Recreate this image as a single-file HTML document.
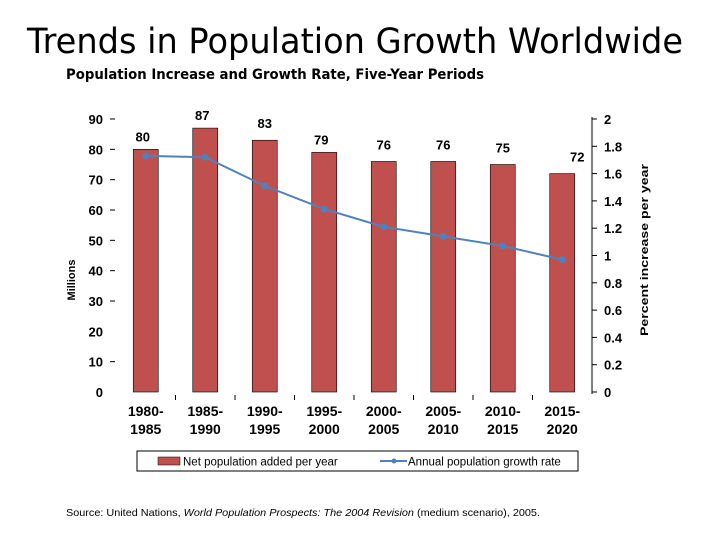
<!DOCTYPE html>
<html><head><meta charset="utf-8"><style>
body{margin:0;background:#fff;width:720px;height:540px;overflow:hidden;font-family:"Liberation Sans",sans-serif}
</style></head><body>
<svg width="720" height="540" xmlns="http://www.w3.org/2000/svg">
<text x="355" y="53" text-anchor="middle" font-size="35" font-family="DejaVu Sans, Liberation Sans, sans-serif" textLength="656" lengthAdjust="spacingAndGlyphs">Trends in Population Growth Worldwide</text>
<text x="66" y="79" font-size="14.5" font-weight="bold" font-family="DejaVu Sans, Liberation Sans, sans-serif" textLength="418" lengthAdjust="spacingAndGlyphs">Population Increase and Growth Rate, Five-Year Periods</text>
<g id="plot"></g>
<text transform="translate(75,280) rotate(-90)" text-anchor="middle" font-size="11" font-weight="bold">Millions</text>
<text transform="translate(648,250) rotate(-90)" text-anchor="middle" font-size="11" font-weight="bold" textLength="172" lengthAdjust="spacingAndGlyphs">Percent increase per year</text>
<g>
<rect x="137" y="451" width="441" height="20" fill="#fff" stroke="#000"/>
<rect x="158" y="457" width="22" height="8" fill="#c0504d" stroke="#000" stroke-width="0.5"/>
<text x="183" y="465.5" font-size="11.5">Net population added per year</text>
<line x1="380" y1="461" x2="407" y2="461" stroke="#4f81bd" stroke-width="2"/>
<circle cx="394" cy="461" r="2.5" fill="#4f81bd"/>
<text x="408" y="465.5" font-size="11.5">Annual population growth rate</text>
</g>
<text x="66" y="516" font-size="10.5" textLength="474" lengthAdjust="spacingAndGlyphs">Source: United Nations, <tspan font-style="italic">World Population Prospects: The 2004 Revision</tspan> (medium scenario), 2005.</text>
</svg>
<script>
const categories=[["1980-","1985"],["1985-","1990"],["1990-","1995"],["1995-","2000"],["2000-","2005"],["2005-","2010"],["2010-","2015"],["2015-","2020"]];
const netAdded=[80,87,83,79,76,76,75,72];
const growthRate=[1.73,1.72,1.51,1.34,1.21,1.14,1.07,0.97];
const leftTicks=[0,10,20,30,40,50,60,70,80,90];
const rightTicks=[0,0.2,0.4,0.6,0.8,1,1.2,1.4,1.6,1.8,2];
const NS="http://www.w3.org/2000/svg";
const g=document.getElementById('plot');
const x0=116,x1=592,yB=392,yT=119;
const cw=(x1-x0)/categories.length;
const yL=v=>yB-(v/90)*(yB-yT);
const yR=v=>yB-(v/2)*(yB-yT);
const xc=i=>x0+cw*(i+0.5);
function mk(t,a){const e=document.createElementNS(NS,t);for(const k in a)e.setAttribute(k,a[k]);g.appendChild(e);return e;}
leftTicks.forEach(v=>{
 const t=mk('text',{x:103,y:yL(v)+5,'text-anchor':'end','font-size':13,'font-weight':'bold'});t.textContent=v;
 
 
 if(v>0&&v!==20){mk('line',{x1:110,x2:115,y1:yL(v),y2:yL(v),stroke:'#000'});}
});
rightTicks.forEach(v=>{
 const t=mk('text',{x:604,y:yR(v)+5,'font-size':13,'font-weight':'bold'});t.textContent=v;
 
 
 mk('line',{x1:592,x2:597,y1:yR(v),y2:yR(v),stroke:'#000'});
});
const ax=mk('line',{x1:592,x2:592,y1:yT-2,y2:yB+2,stroke:'#000'});


for(let i=1;i<categories.length;i++){mk('line',{x1:x0+cw*i,x2:x0+cw*i,y1:yB+3,y2:yB+8,stroke:'#000'});}
netAdded.forEach((v,i)=>{
 const r=mk('rect',{x:xc(i)-12.5,y:yL(v),width:25,height:yB-yL(v),fill:'#c0504d',stroke:'#000','stroke-width':0.6});
 
 
 const t=mk('text',{x:xc(i)+[-3,-3,0,-3,0,0,0,15][i],y:yL(v)-[8,8,12,8,12,12,12,12][i],'text-anchor':'middle','font-size':13,'font-weight':'bold'});t.textContent=v;
 
 
 const c=mk('text',{x:xc(i),y:yB+24,'text-anchor':'middle','font-size':14,'font-weight':'bold'});
 c.innerHTML='<tspan x="'+xc(i)+'">'+categories[i][0]+'</tspan><tspan x="'+xc(i)+'" dy="18">'+categories[i][1]+'</tspan>';
 
 
});
const p=mk('polyline',{points:growthRate.map((v,i)=>xc(i)+','+yR(v)).join(' '),fill:'none',stroke:'#4f81bd','stroke-width':2});


growthRate.forEach((v,i)=>{
 const c=mk('circle',{cx:xc(i),cy:yR(v),r:3.5,fill:'#4f81bd'});
 
 
});
</script>
</body></html>
